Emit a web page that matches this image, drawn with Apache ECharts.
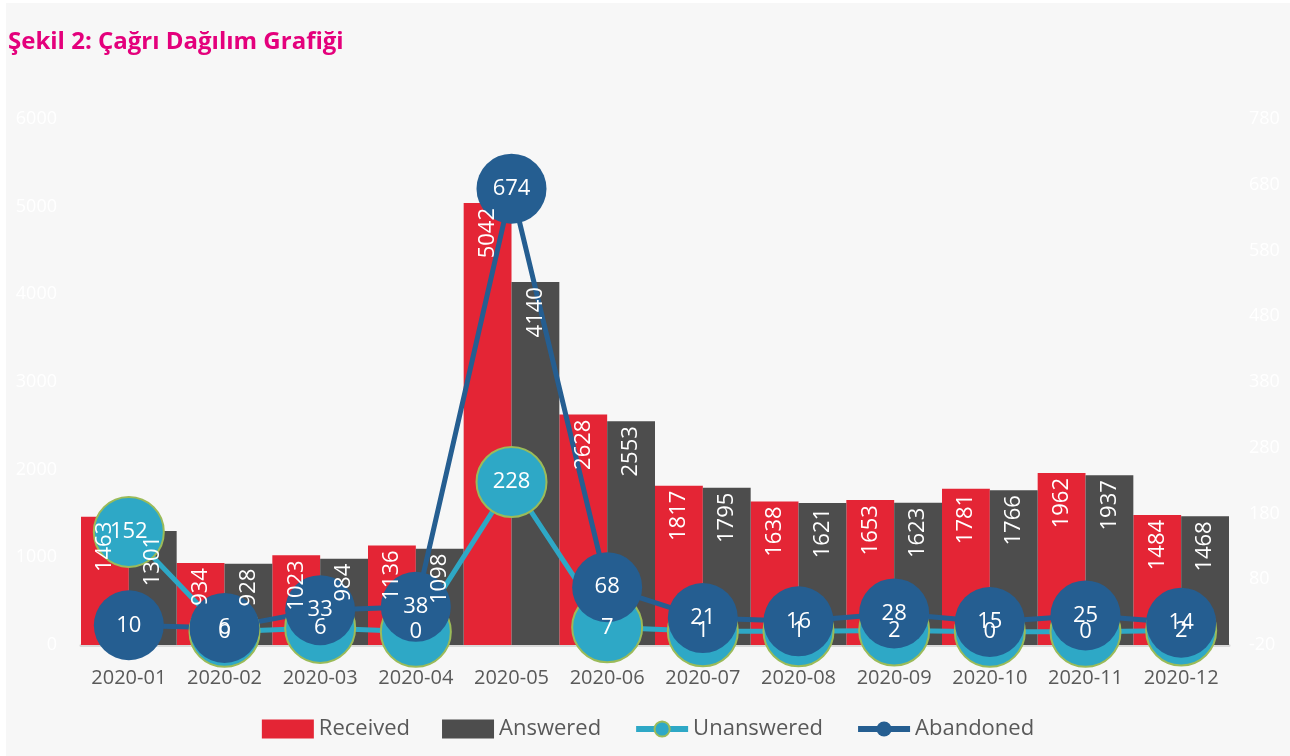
<!DOCTYPE html>
<html>
<head>
<meta charset="utf-8">
<script src="https://cdn.jsdelivr.net/npm/echarts@6/dist/echarts.min.js"></script>
<style>
  html, body { margin: 0; padding: 0; background: #ffffff; }
  #chart { position: absolute; left: 6px; top: 3px; width: 1284px; height: 753px; background: #f7f7f7; }
</style>
</head>
<body>
<div id="chart"></div>
<script>
const months = ['2020-01', '2020-02', '2020-03', '2020-04', '2020-05', '2020-06',
  '2020-07', '2020-08', '2020-09', '2020-10', '2020-11', '2020-12']
const received = [1463, 934, 1023, 1136, 5042, 2628, 1817, 1638, 1653, 1781, 1962, 1484]
const answered = [1301, 928, 984, 1098, 4140, 2553, 1795, 1621, 1623, 1766, 1937, 1468]
const unanswered = [152, 0, 6, 0, 228, 7, 1, 1, 2, 0, 0, 2]
const abandoned = [10, 6, 33, 38, 674, 68, 21, 16, 28, 15, 25, 14]

const chart = echarts.init(document.getElementById('chart'))

// bar labels run bottom-to-top, hanging from the top of the bar
const barLabel = {
  show: true,
  position: 'insideTop',
  rotate: 90,
  align: 'right',
  verticalAlign: 'middle',
  distance: 5,
  color: '#ffffff',
  fontSize: 22,
  fontFamily: 'Open Sans'
}
const dotLabel = {
  show: true,
  position: 'inside',
  color: '#ffffff',
  fontSize: 22,
  fontFamily: 'Open Sans'
}

const option = {
  animation: false,
  textStyle: { fontFamily: 'Open Sans' },
  title: {
    text: 'Şekil 2: Çağrı Dağılım Grafiği',
    left: -3,
    top: 22,
    textStyle: { color: '#e4007c', fontSize: 24, fontWeight: 'bold', fontFamily: 'Open Sans' }
  },
  legend: {
    top: 710,
    left: 'center',
    itemWidth: 52,
    itemHeight: 19,
    itemGap: 32,
    lineStyle: { width: 6 },
    textStyle: { color: '#595959', fontSize: 22 },
    data: [
      { name: 'Received', icon: 'rect' },
      { name: 'Answered', icon: 'rect' },
      'Unanswered',
      'Abandoned'
    ]
  },
  grid: { left: 75, right: 61, top: 116, bottom: 111 },
  xAxis: [
    {
      type: 'category',
      data: months,
      axisLine: { lineStyle: { color: '#d9d9d9', width: 3 } },
      axisTick: { show: false },
      axisLabel: { color: '#595959', fontSize: 20, margin: 23, interval: 0 }
    },
    {
      // hidden twin axis, only carries the bar labels above the line markers
      type: 'category',
      data: months,
      show: false
    }
  ],
  yAxis: [
    {
      type: 'value',
      min: 0,
      max: 6000,
      interval: 1000,
      splitLine: { show: false },
      axisLabel: { color: '#ffffff', fontSize: 18, margin: 24, formatter: v => String(v) }
    },
    {
      type: 'value',
      min: -20,
      max: 780,
      interval: 100,
      splitLine: { show: false },
      axisLabel: { color: '#ffffff', fontSize: 18, margin: 20, formatter: v => String(v) }
    }
  ],
  series: [
    {
      name: 'Received',
      type: 'bar',
      data: received,
      barGap: '0%',
      barCategoryGap: '0%',
      itemStyle: { color: '#e42535' }
    },
    {
      name: 'Answered',
      type: 'bar',
      data: answered,
      itemStyle: { color: '#4d4d4d' }
    },
    {
      name: 'Unanswered',
      type: 'line',
      yAxisIndex: 1,
      data: unanswered,
      symbol: 'circle',
      symbolSize: 70,
      showAllSymbol: true,
      lineStyle: { color: '#2ea8c6', width: 5 },
      itemStyle: { color: '#2ea8c6', borderColor: '#9bbb59', borderWidth: 2 },
      label: dotLabel
    },
    {
      name: 'Abandoned',
      type: 'line',
      yAxisIndex: 1,
      data: abandoned,
      symbol: 'circle',
      symbolSize: 70,
      showAllSymbol: true,
      lineStyle: { color: '#255e91', width: 5 },
      itemStyle: { color: '#255e91' },
      label: dotLabel
    },
    {
      name: 'Received labels',
      type: 'bar',
      xAxisIndex: 1,
      data: received,
      barGap: '0%',
      barCategoryGap: '0%',
      z: 10,
      silent: true,
      itemStyle: { color: 'rgba(0,0,0,0)' },
      label: barLabel
    },
    {
      name: 'Answered labels',
      type: 'bar',
      xAxisIndex: 1,
      data: answered,
      z: 10,
      silent: true,
      itemStyle: { color: 'rgba(0,0,0,0)' },
      label: barLabel
    }
  ]
}

chart.setOption(option)
</script>
</body>
</html>
